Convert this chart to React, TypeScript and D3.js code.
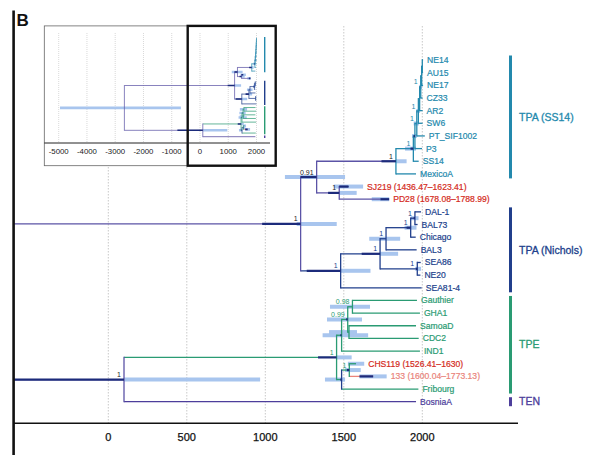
import React from "react";
import * as d3 from "d3";

// ---------------- DATA ----------------
const tipNames = ["NE14","AU15","NE17","CZ33","AR2","SW6","PT_SIF1002","P3","SS14","MexicoA",
  "SJ219 (1436.47–1623.41)","PD28 (1678.08–1788.99)",
  "DAL-1","BAL73","Chicago","BAL3","SEA86","NE20","SEA81-4",
  "Gauthier","GHA1","SamoaD","CDC2","IND1","CHS119 (1526.41–1630)","133 (1600.04–1773.13)","Fribourg","BosniaA"];
const tipParents = ["a","a","b","c","d","e","f","g","h","C1","SJPD","SJPD","N5","N5","N4","N3","NS","NS","N1","E4","E4","E5","E5","E2","E7","E7","E6","TT"];
const tipYears = [2005,2005,2005,2002,2002,2002,2016,1998,1977,1960,1530,1733,1992,1970,1958,1964,1990,1988,1996,1966,1985,1960,1977,1985,1578,1687,1975,1960];
const tipLabelGroups = ["ss14","ss14","ss14","ss14","ss14","ss14","ss14","ss14","ss14","ss14","ancient","ancient",
  "nichols","nichols","nichols","nichols","nichols","nichols","nichols","tpe","tpe","tpe","tpe","tpe","ancient","ancientLight","tpe","ten"];
const tipBranchGroups = ["ss14","ss14","ss14","ss14","ss14","ss14","ss14","ss14","ss14","ss14","nichols","backbone",
  "nichols","nichols","nichols","nichols","nichols","nichols","nichols","tpe","tpe","tpe","tpe","tpe","tpe","ancientLight","tpe","ten"];
const N = NaN;
const tipBarLo = [N,N,N,N,N,N,N,N,N,N,1436,1678,N,N,N,N,N,N,N,N,N,N,N,N,1526,1600,N,N];
const tipBarHi = [N,N,N,N,N,N,N,N,N,N,1623,1789,N,N,N,N,N,N,N,N,N,N,N,N,1630,1773,N,N];
const tipDarkLo = [N,N,N,N,N,N,N,N,N,N,1471,1733,N,N,N,N,N,N,N,N,N,N,N,N,N,1600,N,N];
const tipDarkHi = [N,N,N,N,N,N,N,N,N,N,1530,1789,N,N,N,N,N,N,N,N,N,N,N,N,N,1687,N,N];

const nodeIds = ["R","T1","T2","C1","h","g","f","e","d","c","b","a","SJPD","N1","N2","N3","N4","N5","NS","TT","E1","E2","E3","E4","E5","E6","E7"];
const nodeParents = ["","R","T1","T2","C1","h","g","f","e","d","c","b","T2","T1","N1","N2","N3","N4","N2","R","TT","E1","E2","E3","E3","E1","E6"];
const nodeYears = [-2675,1225,1327,1832,1943,1953,1965,1975,1983,1990,1996,2000,1471,1480,1731,1769,1926,1953,1968,100,1454,1486,1525,1555,1533,1486,1535];
const nodeSupport = ["","1","0.91","1","1","","1","1","","1","","","1","1","1","1","1","1","1","1","1","","0.99","0.98","","","1"];
const nodeBranchGroups = ["backbone","backbone","backbone","backbone","ss14","ss14","ss14","ss14","ss14","ss14","ss14","ss14",
  "backbone","nichols","nichols","nichols","nichols","nichols","nichols","backbone","tpe","tpe","tpe","tpe","tpe","tpe","tpe"];
const nodeVertGroups = ["backbone","backbone","backbone","ss14","ss14","ss14","ss14","ss14","ss14","ss14","ss14","ss14",
  "backbone","nichols","nichols","nichols","nichols","nichols","nichols","backbone","tpe","tpe","tpe","tpe","tpe","nichols","tpe"];
const nodeBarLo = [-4954,1200,1125,1832,1890,1935,1945,1962,N,1980,N,N,1471,1480,1731,1662,1887,1926,1955,100,1454,1365,1393,1412,1406,1380,1508];
const nodeBarHi = [-675,1455,1508,1900,1960,1965,1978,1985,N,1998,N,N,1582,1670,1846,1859,1963,1976,1992,967,1550,1655,1616,1667,1584,1508,1608];
const nodeDarkLo = [N,980,1225,1740,1925,1945,N,N,N,N,N,N,1400,1264,1614,N,1900,1945,1960,-800,1336,1478,1515,N,N,1478,1520];
const nodeDarkHi = [N,1225,1327,1832,1943,1953,N,N,N,N,N,N,1471,1480,1731,N,1926,1953,1968,100,1454,1486,1525,N,N,1486,1535];

const cladeNames = ["TPA (SS14)","TPA (Nichols)","TPE","TEN"];
const cladeFirstTip = ["NE14","DAL-1","Gauthier","BosniaA"];
const cladeLastTip = ["MexicoA","SEA81-4","Fribourg","BosniaA"];
const cladeGroups = ["ss14","nichols","tpe","ten"];

const mainTicks = [0, 500, 1000, 1500, 2000];
const mainTickLabels = ["0","500","1000","1500","2000"];
const insetTicks = [-5000,-4000,-3000,-2000,-1000,0,1000,2000];
const insetTickLabels = ["-5000","-4000","-3000","-2000","-1000","0","1000","2000"];

// ---------------- STYLE ----------------
const COLORS: Record<string,string> = {
  backbone: "#5b53a6", ss14: "#2389ad", nichols: "#213f8c", tpe: "#2a9b73",
  ten: "#4d3e9b", ancient: "#d42b22", ancientLight: "#ea847b",
};
const DARK = "#1c2b7b";
const BAR = "#a8c5ee";
const FONT = "'Liberation Sans', Arial, Helvetica, sans-serif";

// ---------------- LAYOUT ----------------
type Rec = {
  id: string; name: string; isTip: boolean; year: number; parent: string;
  yi: number; minChild: number; maxChild: number;
  branchGroup: string; vertGroup: string; labelGroup: string;
  barLo: number; barHi: number; darkLo: number; darkHi: number; support: string;
};
const recs: Rec[] = [];
tipNames.forEach((n, i) => recs.push({
  id: n, name: n, isTip: true, year: tipYears[i], parent: tipParents[i], yi: i, minChild: i, maxChild: i,
  branchGroup: tipBranchGroups[i], vertGroup: tipBranchGroups[i], labelGroup: tipLabelGroups[i],
  barLo: tipBarLo[i], barHi: tipBarHi[i], darkLo: tipDarkLo[i], darkHi: tipDarkHi[i], support: "",
}));
nodeIds.forEach((n, j) => recs.push({
  id: n, name: n, isTip: false, year: nodeYears[j], parent: nodeParents[j], yi: NaN, minChild: NaN, maxChild: NaN,
  branchGroup: nodeBranchGroups[j], vertGroup: nodeVertGroups[j], labelGroup: nodeBranchGroups[j],
  barLo: nodeBarLo[j], barHi: nodeBarHi[j], darkLo: nodeDarkLo[j], darkHi: nodeDarkHi[j], support: nodeSupport[j],
}));
const byId = new Map(recs.map(r => [r.id, r]));
const childrenOf = new Map<string, Rec[]>();
recs.forEach(r => { if (r.parent) { if (!childrenOf.has(r.parent)) childrenOf.set(r.parent, []); childrenOf.get(r.parent)!.push(r); } });
function layoutY(r: Rec): number {
  if (r.isTip) return r.yi;
  const ch = childrenOf.get(r.id) || [];
  const ys = ch.map(layoutY);
  r.minChild = Math.min(...ys); r.maxChild = Math.max(...ys);
  r.yi = (r.minChild + r.maxChild) / 2;
  return r.yi;
}
layoutY(byId.get("R")!);

function TreeMarks({ xs, ys, lw, barW, darkW, opacity, labels }:
  { xs: d3.ScaleLinear<number, number>; ys: d3.ScaleLinear<number, number>; lw: number; barW: number; darkW: number; opacity: number; labels: boolean }) {
  return (
    <g>
      {recs.filter(r => !isNaN(r.barLo)).map(r => (
        <line key={"bar" + r.id} x1={xs(r.barLo)} x2={xs(r.barHi)} y1={ys(r.yi)} y2={ys(r.yi)} stroke={BAR} strokeWidth={barW} />
      ))}
      <g opacity={opacity}>
        {recs.filter(r => r.parent).map(r => {
          const p = byId.get(r.parent)!;
          return <line key={"br" + r.id} x1={xs(p.year)} x2={xs(r.year)} y1={ys(r.yi)} y2={ys(r.yi)} stroke={COLORS[r.branchGroup]} strokeWidth={lw} />;
        })}
        {recs.filter(r => !r.isTip).map(r => (
          <line key={"v" + r.id} x1={xs(r.year)} x2={xs(r.year)} y1={ys(r.minChild) - lw / 2} y2={ys(r.maxChild) + lw / 2} stroke={COLORS[r.vertGroup]} strokeWidth={lw} />
        ))}
      </g>
      {recs.filter(r => !isNaN(r.darkLo)).map(r => (
        <line key={"dk" + r.id} x1={xs(r.darkLo)} x2={xs(r.darkHi)} y1={ys(r.yi)} y2={ys(r.yi)} stroke={DARK} strokeWidth={darkW} />
      ))}
      {labels && recs.filter(r => r.isTip).map(r => {
        const end = isNaN(r.barHi) ? r.year : Math.max(r.year, r.barHi);
        const c = COLORS[r.labelGroup];
        return <text key={"tl" + r.id} x={xs(end) + 4} y={ys(r.yi)} dy="0.35em" fontSize={8.6} fontFamily={FONT}
          fill={c} stroke={c} strokeWidth={0.2}>{r.name}</text>;
      })}
      {labels && recs.filter(r => r.support).map(r => (
        <text key={"sp" + r.id} x={xs(r.year) - 3} y={ys(r.yi) - 2.5} textAnchor="end" fontSize={7} fontFamily={FONT}
          fill={r.labelGroup === "backbone" ? "#222" : COLORS[r.labelGroup]}>{r.support}</text>
      ))}
    </g>
  );
}

export default function App() {
  const W = 600, H = 474;
  const xMain = d3.scaleLinear().domain([0, 2000]).range([108.3, 422.3]);
  const yMain = d3.scaleLinear().domain([0, tipNames.length - 1]).range([60, 401.7]);
  const xIn = d3.scaleLinear().domain([-5000, 2000]).range([58.7, 256.5]);
  const yIn = d3.scaleLinear().domain([0, tipNames.length - 1]).range([38.3, 136.7]);
  const axisY = 423.3;
  const inset = { x: 44.3, y: 25.9, w: 231.4, h: 139.8, axisY: 143, axisX2: 270 };
  const tipIndex = (n: string) => tipNames.indexOf(n);

  return (
    <svg width={W} height={H} style={{ position: "absolute", left: 0, top: 0, background: "#fff" }}>
      <defs>
        <clipPath id="mainClip"><rect x={13} y={0} width={W - 13} height={H} /></clipPath>
        <clipPath id="insetClip"><rect x={inset.x} y={inset.y} width={inset.w} height={inset.h} /></clipPath>
      </defs>
      <rect x={0} y={0} width={W} height={H} fill="#fff" />
      {mainTicks.map(t => (
        <line key={"g" + t} x1={xMain(t)} x2={xMain(t)} y1={26} y2={axisY} stroke="#c9c9c9" strokeWidth={1} strokeDasharray="1.5,1.5" />
      ))}
      <g clipPath="url(#mainClip)">
        <TreeMarks xs={xMain} ys={yMain} lw={1.3} barW={4} darkW={2.2} opacity={1} labels={true} />
      </g>
      {cladeNames.map((c, i) => {
        const y1 = yMain(tipIndex(cladeFirstTip[i])) - 4.5;
        const y2 = yMain(tipIndex(cladeLastTip[i])) + 4.5;
        const col = COLORS[cladeGroups[i]];
        return (
          <g key={c}>
            <line x1={510.5} x2={510.5} y1={y1} y2={y2} stroke={col} strokeWidth={3} />
            <text x={519} y={(y1 + y2) / 2} dy="0.35em" fontSize={10.5} fontFamily={FONT} fill={col} stroke={col} strokeWidth={0.3}>{c}</text>
          </g>
        );
      })}
      <line x1={13} x2={518} y1={axisY} y2={axisY} stroke="#111" strokeWidth={1.5} />
      {mainTicks.map((t, i) => (
        <text key={"tl" + t} x={xMain(t)} y={axisY + 14} dy="0.35em" textAnchor="middle" fontSize={11} fontFamily={FONT}
          fill="#111" stroke="#111" strokeWidth={0.25}>{mainTickLabels[i]}</text>
      ))}
      <rect x={12.3} y={10.5} width={2.6} height={444.5} fill="#111" />
      <text x={16.5} y={26} fontSize={17} fontWeight="bold" fontFamily={FONT} fill="#111">B</text>

      <rect x={inset.x} y={inset.y} width={inset.w} height={inset.h} fill="#fff" stroke="#666" strokeWidth={0.8} />
      {insetTicks.map(t => (
        <line key={"ig" + t} x1={xIn(t)} x2={xIn(t)} y1={33} y2={inset.axisY} stroke="#cfcfcf" strokeWidth={0.8} strokeDasharray="1,1" />
      ))}
      <g clipPath="url(#insetClip)">
        <TreeMarks xs={xIn} ys={yIn} lw={0.9} barW={2.6} darkW={1.6} opacity={0.8} labels={false} />
        {cladeNames.map((c, i) => (
          <line key={"ic" + c} x1={264.7} x2={264.7} y1={yIn(tipIndex(cladeFirstTip[i])) - 1.2} y2={yIn(tipIndex(cladeLastTip[i])) + 1.2}
            stroke={COLORS[cladeGroups[i]]} strokeWidth={1.4} />
        ))}
      </g>
      <line x1={inset.x} x2={inset.axisX2} y1={inset.axisY} y2={inset.axisY} stroke="#222" strokeWidth={1} />
      {insetTicks.map((t, i) => (
        <text key={"it" + t} x={xIn(t)} y={151} dy="0.35em" textAnchor="middle" fontSize={7.8} fontFamily={FONT} fill="#222">{insetTickLabels[i]}</text>
      ))}
      <rect x={187.7} y={inset.y} width={inset.x + inset.w - 187.7} height={inset.h} fill="none" stroke="#111" strokeWidth={2.4} />
    </svg>
  );
}
